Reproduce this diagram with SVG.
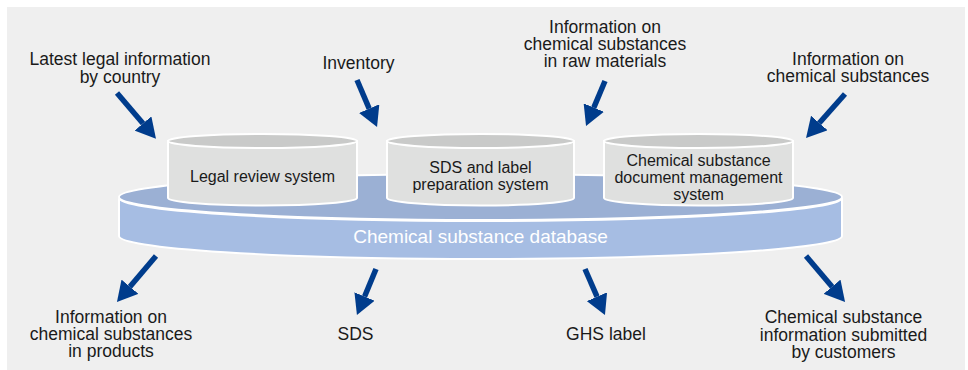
<svg xmlns="http://www.w3.org/2000/svg" width="968" height="370" viewBox="0 0 968 370">
<style>
.lbl{font-family:"Liberation Sans",Arial,sans-serif;font-size:17.5px;fill:#1a1a1a;text-anchor:middle}
.in{font-family:"Liberation Sans",Arial,sans-serif;font-size:16px;fill:#1a1a1a;text-anchor:middle}
.db{font-family:"Liberation Sans",Arial,sans-serif;font-size:19px;fill:#ffffff;text-anchor:middle}
.body{fill:#dfe0df;stroke:#ffffff;stroke-width:2}
.cap{fill:#c9cac9;stroke:#ffffff;stroke-width:2}
.arr{stroke:#003c8c;stroke-width:5.5;fill:none;marker-end:url(#ah)}
</style>
<defs>
<marker id="ah" markerUnits="userSpaceOnUse" viewBox="0 0 20 22" markerWidth="20" markerHeight="22" refX="0" refY="11" orient="auto">
<path d="M0,0 L20,11 L0,22 Z" fill="#003c8c"/>
</marker>
</defs>
<rect x="0" y="0" width="968" height="370" fill="#ffffff"/>
<rect x="7" y="7" width="958" height="363" fill="#efefef"/>

<g id="database">
<path d="M119,198 L119,236 A361.5,23 0 0 0 842,236 L842,198 A361.5,23 0 0 1 119,198 Z" fill="#a6bde3" stroke="#ffffff" stroke-width="2"/>
<ellipse cx="480.5" cy="197" rx="361.5" ry="23" fill="#9bb0d4" stroke="#ffffff" stroke-width="2"/>
<text class="db" x="480.5" y="243">Chemical substance database</text>
</g>

<g id="legal-review">
<path class="body" d="M168,141 L168,198 A94.5,7.5 0 0 0 357,198 L357,141 Z"/>
<ellipse class="cap" cx="262.5" cy="141" rx="94.5" ry="7"/>
<text class="in" x="262.5" y="182">Legal review system</text>
</g>

<g id="sds-label">
<path class="body" d="M387,141 L387,198 A93.5,7.5 0 0 0 574,198 L574,141 Z"/>
<ellipse class="cap" cx="480.5" cy="141" rx="93.5" ry="7"/>
<text class="in" x="480.5" y="173">SDS and label</text>
<text class="in" x="480.5" y="190">preparation system</text>
</g>

<g id="doc-mgmt">
<path class="body" d="M604,141 L604,198 A94.5,7.5 0 0 0 793,198 L793,141 Z"/>
<ellipse class="cap" cx="698.5" cy="141" rx="94.5" ry="7"/>
<text class="in" x="698.5" y="166">Chemical substance</text>
<text class="in" x="698.5" y="183">document management</text>
<text class="in" x="698.5" y="200">system</text>
</g>

<g id="connectors">
<line class="arr" x1="117" y1="93" x2="143" y2="123.5"/>
<line class="arr" x1="357" y1="80" x2="369.2" y2="108.6"/>
<line class="arr" x1="605" y1="81" x2="593.8" y2="107.6"/>
<line class="arr" x1="845" y1="94" x2="819.3" y2="123"/>
<line class="arr" x1="156" y1="256" x2="129.9" y2="286.7"/>
<line class="arr" x1="376" y1="269" x2="364.6" y2="296.5"/>
<line class="arr" x1="585" y1="269" x2="597" y2="296.7"/>
<line class="arr" x1="806" y1="256" x2="832.1" y2="286.7"/>
</g>

<g id="in-legal">
<text class="lbl" x="120" y="65">Latest legal information</text>
<text class="lbl" x="120" y="82.5">by country</text>
</g>
<g id="in-inventory">
<text class="lbl" x="358.5" y="69">Inventory</text>
</g>
<g id="in-raw">
<text class="lbl" x="605" y="33">Information on</text>
<text class="lbl" x="605" y="50">chemical substances</text>
<text class="lbl" x="605" y="67">in raw materials</text>
</g>
<g id="in-info">
<text class="lbl" x="848" y="65">Information on</text>
<text class="lbl" x="848" y="82">chemical substances</text>
</g>
<g id="out-products">
<text class="lbl" x="111" y="323">Information on</text>
<text class="lbl" x="111" y="340">chemical substances</text>
<text class="lbl" x="111" y="357">in products</text>
</g>
<g id="out-sds">
<text class="lbl" x="355.5" y="340">SDS</text>
</g>
<g id="out-ghs">
<text class="lbl" x="606" y="340">GHS label</text>
</g>
<g id="out-customers">
<text class="lbl" x="843.5" y="323">Chemical substance</text>
<text class="lbl" x="843.5" y="340.5">information submitted</text>
<text class="lbl" x="843.5" y="357.5">by customers</text>
</g>
</svg>
